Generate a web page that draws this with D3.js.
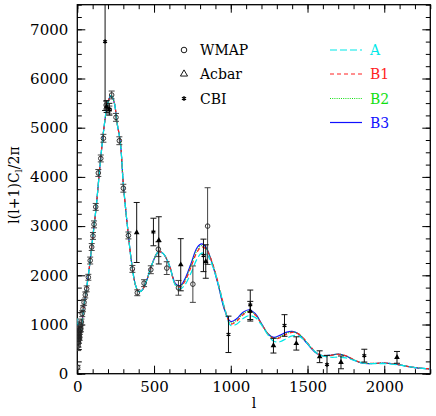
<!DOCTYPE html>
<html>
<head>
<meta charset="utf-8">
<script src="https://cdn.jsdelivr.net/npm/d3@7"></script>
<style>
  body { margin: 0; background: #fff; }
  text { font-family: "DejaVu Serif", serif; }
</style>
</head>
<body>
<div id="chart"></div>
<script>
// shared part of the model spectra (l <= 600)
var lLow = [2, 10, 20, 40, 60, 80, 100, 125, 150, 175, 200, 220, 240, 260, 280, 300, 330, 355, 380, 400, 420, 450, 490, 530, 560, 600];
var dLow = [1120, 880, 860, 1300, 1720, 2200, 2750, 3450, 4300, 5030, 5520, 5650, 5520, 5080, 4720, 3850, 2900, 2230, 1790, 1670, 1690, 1880, 2250, 2480, 2440, 2200];

// tails of the four models
var lTail = [640, 670, 700, 740, 780, 810, 840, 880, 920, 960, 1000, 1040, 1080, 1120, 1160, 1200, 1240, 1280, 1320, 1360,
             1400, 1440, 1480, 1520, 1560, 1600, 1650, 1700, 1750, 1800, 1850, 1900, 1950, 2000, 2050, 2100, 2150, 2200, 2250, 2300];
var tailA  = [1790, 1725, 1800, 2040, 2330, 2450, 2440, 2200, 1800, 1330, 980, 1010, 1120, 1180, 1140, 990, 800, 660, 650, 710,
              770, 770, 680, 540, 420, 360, 335, 335, 320, 275, 225, 205, 205, 205, 195, 175, 150, 125, 108, 96];
var tailB1 = [1810, 1760, 1870, 2160, 2470, 2575, 2530, 2250, 1820, 1330, 1010, 1070, 1200, 1250, 1190, 1010, 820, 710, 730, 800,
              840, 810, 700, 550, 420, 365, 370, 395, 365, 290, 225, 210, 212, 215, 205, 180, 150, 125, 108, 96];
var tailB2 = [1815, 1770, 1890, 2190, 2510, 2605, 2545, 2240, 1800, 1310, 1030, 1090, 1220, 1270, 1200, 1015, 820, 720, 750, 815,
              850, 810, 690, 540, 415, 365, 372, 398, 362, 285, 222, 207, 211, 215, 205, 180, 150, 125, 108, 96];
var tailB3 = [1830, 1790, 1920, 2230, 2560, 2640, 2560, 2230, 1780, 1290, 1060, 1120, 1250, 1300, 1220, 1020, 820, 740, 780, 840,
              860, 810, 680, 530, 410, 365, 375, 400, 360, 280, 220, 205, 210, 215, 205, 180, 150, 125, 108, 96];

var modelNames = ["A", "B1", "B2", "B3"];
var modelColours = ["#00e8e8", "#ff2020", "#10e010", "#1010ff"];
var modelDash = ["7,3", "4,3", "1,1.2", null];

// WMAP
var wmapL = [2, 3, 4, 5, 6, 7, 8, 9, 10, 11, 12, 14, 16, 18, 20, 23, 27, 32, 37, 44, 52, 61, 72, 84, 94, 102, 109, 120,
             137, 153, 170, 188, 209, 224, 252, 274, 300, 333, 359, 391, 435, 479, 528, 583, 659, 753, 849];
var wmapD = [130, 640, 750, 560, 820, 700, 620, 760, 880, 690, 800, 860, 740, 990, 900, 920, 1050, 1220, 1320, 1450, 1600, 1725, 1960, 2300, 2575, 2800, 3035, 3390,
             4080, 4375, 4785, 5460, 5360, 5665, 5210, 4735, 3770, 2810, 2130, 1645, 1840, 2113, 2530, 2146, 1745, 1820, 3000];
var wmapE = [40, 90, 90, 90, 80, 80, 80, 70, 70, 70, 70, 60, 60, 60, 60, 60, 60, 60, 60, 60, 60, 60, 60, 70, 70, 70, 70, 70,
             70, 70, 80, 80, 80, 80, 80, 80, 80, 70, 70, 60, 70, 80, 150, 130, 150, 370, 780];

// Acbar
var acbarL = [191, 387, 531, 674, 837, 1127, 1278, 1427, 1579, 1718, 2083];
var acbarD = [5430, 2870, 2710, 2215, 2280, 1270, 570, 615, 345, 230, 332];
var acbarE = [120, 610, 480, 530, 340, 200, 150, 135, 120, 130, 120];

// CBI
var cbiL = [181, 209, 496, 822, 985, 1127, 1350, 1627, 1870];
var cbiD = [6750, 5375, 2880, 2405, 800, 1400, 980, 183, 367];
var cbiE = [1400, 120, 280, 330, 370, 300, 220, 190, 130];

var width = 436, height = 416;
var svg = d3.select("#chart").append("svg")
    .attr("width", width).attr("height", height);

var xScale = d3.scaleLinear().domain([0, 2300]).range([77.3, 430.3]);
var yScale = d3.scaleLinear().domain([0, 7500]).range([373.7, 4.7]);
var x0 = xScale.range()[0], x1 = xScale.range()[1];
var y0 = yScale.range()[0], y1 = yScale.range()[1];

svg.append("defs").append("clipPath").attr("id", "clip")
    .append("rect").attr("x", x0).attr("y", y1).attr("width", x1 - x0).attr("height", y0 - y1);

// axes: minor + major ticks on all four sides, pointing inward
function addAxis(axisFn, scale, values, size, pos, labels) {
    var ax = axisFn(scale).tickValues(values).tickSize(-size);
    if (labels) ax.tickFormat(d3.format("d"));
    else ax.tickFormat("");
    var g = svg.append("g").attr("transform", pos).call(ax);
    g.select(".domain").remove();
    g.selectAll("line").attr("stroke", "#000").attr("stroke-width", 1);
    g.selectAll("text").attr("fill", "#000").style("font-size", "15px").style("font-family", "DejaVu Serif, serif");
    return g;
}
var xMinor = d3.range(0, 2301, 100), xMajor = d3.range(0, 2301, 500);
var yMinor = d3.range(0, 7501, 250), yMajor = d3.range(0, 7501, 1000);

addAxis(d3.axisBottom, xScale, xMinor, 4.5, "translate(0," + y0 + ")", false);
addAxis(d3.axisBottom, xScale, xMajor, 8, "translate(0," + y0 + ")", true).call(function(g){ g.selectAll(".tick text").attr("dy", "0.71em").attr("y", 7.5); });
addAxis(d3.axisTop, xScale, xMinor, 4.5, "translate(0," + y1 + ")", false);
addAxis(d3.axisTop, xScale, xMajor, 8, "translate(0," + y1 + ")", false);
addAxis(d3.axisLeft, yScale, yMinor, 4.5, "translate(" + x0 + ",0)", false);
addAxis(d3.axisLeft, yScale, yMajor, 8, "translate(" + x0 + ",0)", true).call(function(g){ g.selectAll(".tick text").attr("x", -9); });
addAxis(d3.axisRight, yScale, yMinor, 4.5, "translate(" + x1 + ",0)", false);
addAxis(d3.axisRight, yScale, yMajor, 8, "translate(" + x1 + ",0)", false);

svg.append("rect").attr("x", x0).attr("y", y1).attr("width", x1 - x0).attr("height", y0 - y1)
    .attr("fill", "none").attr("stroke", "#000").attr("stroke-width", 1.3);

// model curves
var plot = svg.append("g").attr("clip-path", "url(#clip)");
var tails = [tailA, tailB1, tailB2, tailB3];
var line = d3.line()
    .x(function(d){ return xScale(d[0]); })
    .y(function(d){ return yScale(d[1]); })
    .curve(d3.curveCatmullRom.alpha(0.5));

[3, 2, 1, 0].forEach(function(i){
    var pts = lLow.map(function(l, j){ return [l, dLow[j]]; })
        .concat(lTail.map(function(l, j){ return [l, tails[i][j]]; }));
    plot.append("path").datum(pts)
        .attr("d", line)
        .attr("fill", "none")
        .attr("stroke", modelColours[i])
        .attr("stroke-width", 1.2)
        .attr("stroke-dasharray", modelDash[i]);
});

// data points with error bars
function errorBars(ls, ds, es, colour) {
    var g = plot.append("g").attr("stroke", colour).attr("stroke-width", 1);
    ls.forEach(function(l, i){
        var x = xScale(l), ya = yScale(ds[i] + es[i]), yb = yScale(ds[i] - es[i]);
        g.append("line").attr("x1", x).attr("x2", x).attr("y1", ya).attr("y2", yb);
        g.append("line").attr("x1", x - 3).attr("x2", x + 3).attr("y1", ya).attr("y2", ya);
        g.append("line").attr("x1", x - 3).attr("x2", x + 3).attr("y1", yb).attr("y2", yb);
    });
}
errorBars(wmapL, wmapD, wmapE, "#444");
errorBars(acbarL, acbarD, acbarE, "#111");
errorBars(cbiL, cbiD, cbiE, "#111");

var asterisk = d3.symbolAsterisk || d3.symbolCross;

plot.selectAll(".wmap").data(wmapL).enter().append("circle")
    .attr("class", "wmap")
    .attr("cx", function(d){ return xScale(d); })
    .attr("cy", function(d, i){ return yScale(wmapD[i]); })
    .attr("r", 2.3)
    .attr("fill", "none").attr("stroke", "#222").attr("stroke-width", 0.9);

plot.selectAll(".acbar").data(acbarL).enter().append("path")
    .attr("class", "acbar")
    .attr("transform", function(d, i){ return "translate(" + xScale(d) + "," + yScale(acbarD[i]) + ")"; })
    .attr("d", d3.symbol().type(d3.symbolTriangle).size(14))
    .attr("fill", "#000");

plot.selectAll(".cbi").data(cbiL).enter().append("path")
    .attr("class", "cbi")
    .attr("transform", function(d, i){ return "translate(" + xScale(d) + "," + yScale(cbiD[i]) + ")"; })
    .attr("d", d3.symbol().type(asterisk).size(14))
    .attr("fill", "none").attr("stroke", "#000").attr("stroke-width", 1.2);

// legend: data sets
var dataNames = ["WMAP", "Acbar", "CBI"];
var legY = [50, 74, 98.5, 122.5];
var leg = svg.append("g");
leg.append("circle").attr("cx", 184).attr("cy", legY[0]).attr("r", 2.8)
    .attr("fill", "none").attr("stroke", "#000").attr("stroke-width", 0.9);
leg.append("path").attr("transform", "translate(184," + legY[1] + ")")
    .attr("d", d3.symbol().type(d3.symbolTriangle).size(22))
    .attr("fill", "none").attr("stroke", "#000").attr("stroke-width", 0.9);
leg.append("path").attr("transform", "translate(184," + legY[2] + ")")
    .attr("d", d3.symbol().type(asterisk).size(16))
    .attr("fill", "none").attr("stroke", "#000").attr("stroke-width", 1.2);
leg.selectAll(".dname").data(dataNames).enter().append("text")
    .attr("x", 200).attr("y", function(d, i){ return legY[i]; })
    .attr("dy", "0.36em")
    .style("font-size", "14px")
    .text(function(d){ return d; });

// legend: models
modelNames.forEach(function(name, i){
    leg.append("line").attr("x1", 330).attr("x2", 362)
        .attr("y1", legY[i]).attr("y2", legY[i])
        .attr("stroke", modelColours[i]).attr("stroke-width", 1.2)
        .attr("stroke-dasharray", modelDash[i]);
    leg.append("text").attr("x", 370).attr("y", legY[i]).attr("dy", "0.36em")
        .attr("fill", modelColours[i])
        .style("font-size", "14px")
        .text(name);
});

// axis titles
var yt = svg.append("text")
    .attr("transform", "translate(19,185) rotate(-90)")
    .attr("text-anchor", "middle")
    .style("font-size", "14px");
yt.append("tspan").text("l(l+1)C");
yt.append("tspan").attr("dy", 3).style("font-size", "10px").text("l");
yt.append("tspan").attr("dy", -3).text("/2\u03c0");

svg.append("text").attr("x", 254).attr("y", 408)
    .attr("text-anchor", "middle")
    .style("font-size", "14px")
    .text("l");
</script>
</body>
</html>
